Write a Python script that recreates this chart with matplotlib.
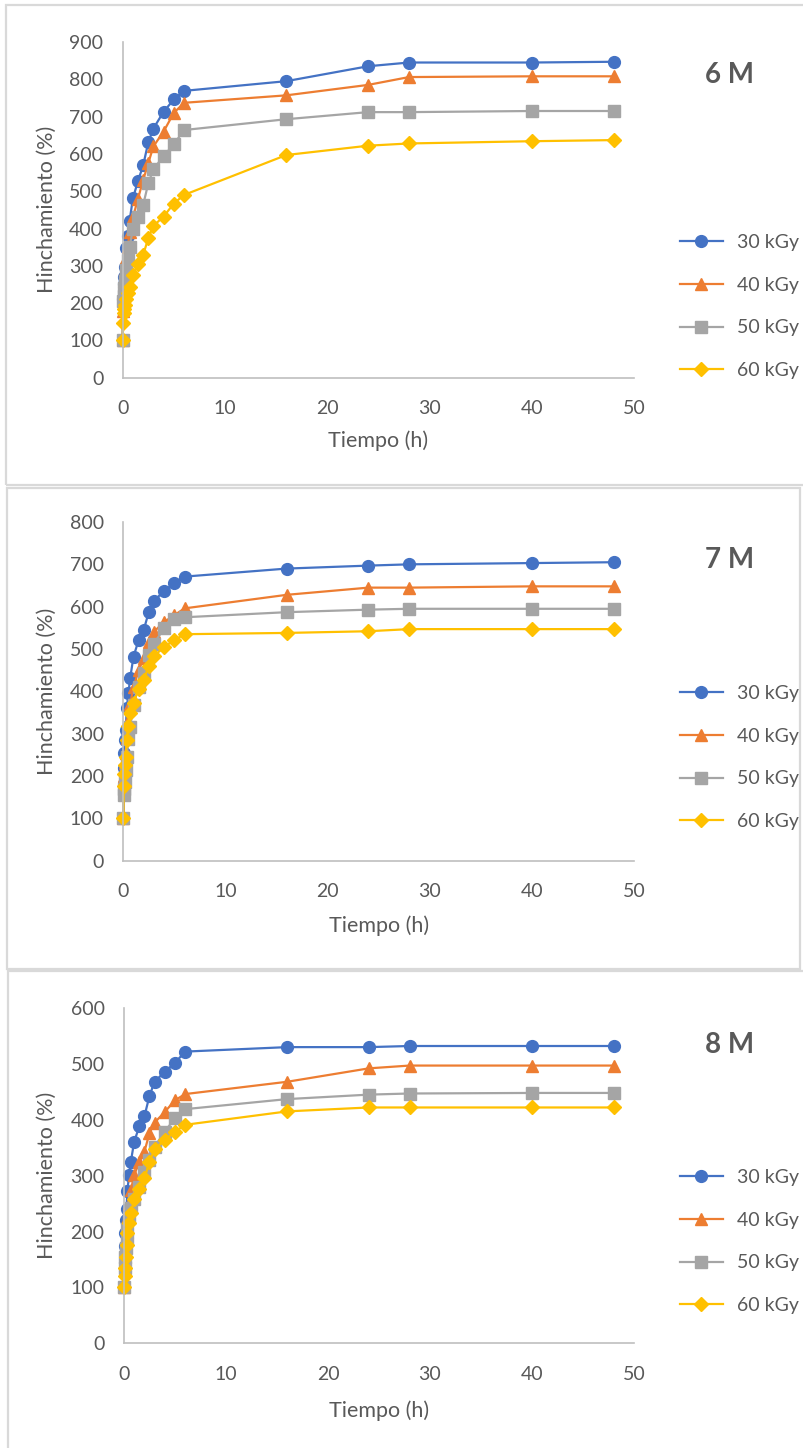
import matplotlib
matplotlib.use("Agg")
import matplotlib.pyplot as plt
from matplotlib.patches import Rectangle

plt.rcParams['font.family'] = ['Lato', 'DejaVu Sans']

# time points (h), shared by all series
tiempo = [0, 0.05, 0.1, 0.167, 0.25, 0.33, 0.5, 0.67, 1, 1.5, 2, 2.5, 3, 4, 5, 6,
          16, 24, 28, 40, 48]
dosis = ["30 kGy", "40 kGy", "50 kGy", "60 kGy"]

# 6 M
m6_30 = [100, 210, 250, 271, 297, 348, 380, 420, 481, 528, 569, 631, 668, 713, 746, 769,
         795, 835, 845, 845, 847]
m6_40 = [100, 180, 220, 260, 290, 320, 350, 390, 430, 480, 530, 575, 620, 660, 710, 737,
         757, 785, 806, 808, 808]
m6_50 = [100, 205, 220, 240, 260, 290, 315, 351, 398, 432, 463, 521, 559, 594, 626, 664,
         693, 712, 712, 715, 715]
m6_60 = [100, 147, 173, 185, 195, 210, 228, 244, 275, 304, 329, 374, 407, 432, 467, 490,
         597, 622, 628, 634, 637]

# 7 M
m7_30 = [100, 219, 254, 285, 309, 360, 395, 431, 482, 521, 545, 588, 613, 638, 655, 671,
         690, 697, 700, 703, 705]
m7_40 = [100, 180, 200, 230, 255, 290, 330, 370, 410, 450, 478, 517, 541, 564, 580, 596,
         628, 645, 645, 648, 648]
m7_50 = [100, 155, 170, 187, 215, 246, 287, 316, 368, 411, 443, 486, 513, 549, 572, 575,
         587, 593, 595, 595, 595]
m7_60 = [100, 176, 205, 225, 246, 285, 318, 348, 373, 405, 427, 461, 483, 505, 521, 535,
         538, 542, 547, 547, 547]

# 8 M
m8_30 = [100, 174, 198, 221, 240, 273, 301, 325, 361, 388, 406, 443, 468, 486, 502, 522,
         530, 530, 532, 532, 532]
m8_40 = [100, 140, 165, 185, 200, 225, 250, 274, 301, 325, 343, 376, 395, 414, 435, 446,
         468, 492, 497, 497, 497]
m8_50 = [100, 135, 155, 170, 185, 205, 225, 242, 259, 280, 307, 328, 352, 379, 403, 419,
         437, 445, 447, 448, 448]
m8_60 = [100, 120, 134, 155, 176, 197, 215, 233, 258, 277, 295, 325, 347, 364, 379, 391,
         415, 422, 422, 422, 422]

paneles = [
    ("6 M", [m6_30, m6_40, m6_50, m6_60], 900),
    ("7 M", [m7_30, m7_40, m7_50, m7_60], 800),
    ("8 M", [m8_30, m8_40, m8_50, m8_60], 600),
]

colores = ["#4472C4", "#ED7D31", "#A5A5A5", "#FFC000"]
marcadores = ["o", "^", "s", "D"]
tamanos = [8.5, 8.5, 8, 7]

W, H = 804, 1448
fig = plt.figure(figsize=(W / 100, H / 100), dpi=100)

# panel geometry in pixels: frame (x0, y0, x1, y1), axes (x0, x1, ytop, ybot)
marcos = [(6, 5, 806, 485), (7, 488, 800, 969), (8, 971, 806, 1452)]
ejes = [(122.7, 634, 42, 377.7), (123.3, 634, 522, 860.7), (124, 634, 1008, 1343.3)]
legend_top = [234, 685, 1169]
titulo_y = [75, 560, 1045]
xlabel_y = [441, 926, 1411]

for (nombre, series, ymax), marco, (x0, x1, yt, yb), ly, ty, xl in zip(
        paneles, marcos, ejes, legend_top, titulo_y, xlabel_y):
    fig.patches.append(Rectangle((marco[0] / W, 1 - marco[3] / H),
                                 (marco[2] - marco[0]) / W, (marco[3] - marco[1]) / H,
                                 transform=fig.transFigure, fill=False,
                                 edgecolor="#D9D9D9", linewidth=1.6))
    ax = fig.add_axes([x0 / W, 1 - yb / H, (x1 - x0) / W, (yb - yt) / H])
    for vals, lab, c, m, ms in zip(series, dosis, colores, marcadores, tamanos):
        ax.plot(tiempo, vals, color=c, marker=m, markersize=ms, linewidth=1.6,
                label=lab, clip_on=False)
    ax.set_xlim(0, 50)
    ax.set_ylim(0, ymax)
    ax.set_xticks(range(0, 51, 10))
    ax.set_yticks(range(0, ymax + 1, 100))
    for s in ("top", "right"):
        ax.spines[s].set_visible(False)
    for s in ("left", "bottom"):
        ax.spines[s].set_color("#BFBFBF")
        ax.spines[s].set_linewidth(1.2)
    ax.tick_params(length=0, labelsize=14, labelcolor="#595959")
    ax.tick_params(axis="y", pad=14)
    ax.tick_params(axis="x", pad=16)
    ax.set_xlabel("Tiempo (h)", fontsize=15.5, color="#595959", va="center")
    ax.set_ylabel("Hinchamiento (%)", fontsize=15.5, color="#595959", va="center")
    ax.xaxis.set_label_coords(0.5, (yb - xl) / (yb - yt))
    ax.yaxis.set_label_coords((47 - x0) / (x1 - x0), 0.5)
    ax.legend(loc="upper left", bbox_to_anchor=(680 / W, 1 - ly / H),
              bbox_transform=fig.transFigure, frameon=False, fontsize=14,
              handlelength=2.2, handletextpad=0.75, labelspacing=1.32,
              borderaxespad=0, borderpad=0, labelcolor="#595959")
    fig.text(730 / W, 1 - ty / H, nombre, fontsize=20, fontweight="bold",
             color="#595959", ha="center", va="center")

fig.savefig("out.png", dpi=100)
